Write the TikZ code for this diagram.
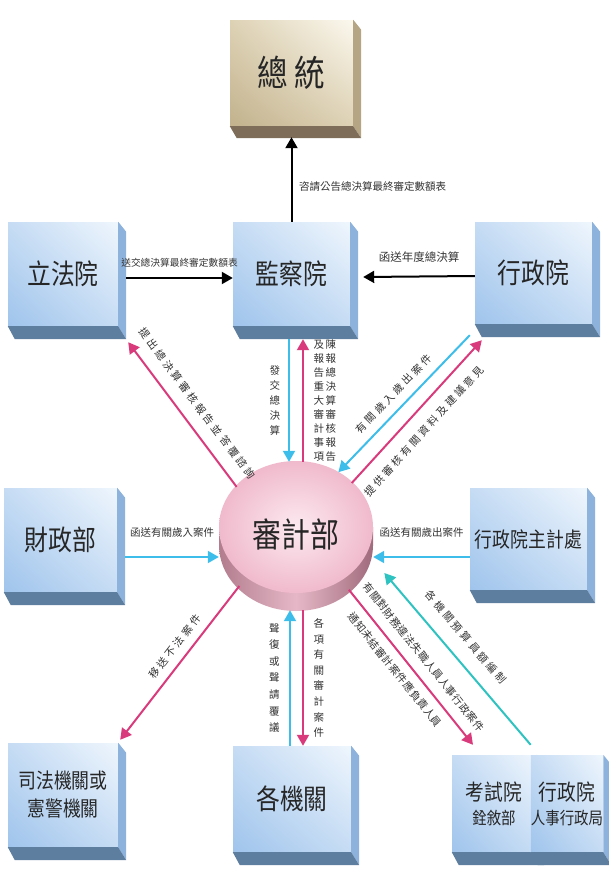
\documentclass[tikz,border=0pt]{standalone}
\usepackage{fontspec}
\setmainfont{Noto Sans CJK TC}
\newfontfamily\boxfont[FakeStretch=0.85]{Noto Sans CJK TC}
\usepackage{tikz}
\usetikzlibrary{positioning,arrows.meta,shapes.geometric,shadings}
\usepackage{xcolor}

\definecolor{boxdark}{HTML}{9FC4EC}
\definecolor{boxmid}{HTML}{C6DCF4}
\definecolor{boxlight}{HTML}{EFF6FD}
\definecolor{boxside}{HTML}{8DB2DC}
\definecolor{boxbase}{HTML}{5E7E9F}
\definecolor{ztdark}{HTML}{C2B28D}
\definecolor{ztmid}{HTML}{DED2B5}
\definecolor{ztlight}{HTML}{FBF8EE}
\definecolor{ztside}{HTML}{B5A585}
\definecolor{ztbase}{HTML}{7D6D59}
\definecolor{cyltopA}{HTML}{FCE9F0}
\definecolor{cyltopB}{HTML}{F0BACC}
\definecolor{cylsideA}{HTML}{B27D8E}
\definecolor{cylsideB}{HTML}{E6B8C7}
\definecolor{cylsideC}{HTML}{A06B7C}
\definecolor{pinkline}{HTML}{D93A7B}
\definecolor{cyanline}{HTML}{3DBDEA}
\definecolor{tealline}{HTML}{2EC2C0}

\tikzset{
  bluebox/.style={rectangle, inner sep=0pt, shade, upper left=boxmid, upper right=boxlight,
    lower left=boxdark, lower right=boxmid, text=black!85, align=center},
  tanbox/.style={rectangle, inner sep=0pt, shade, upper left=ztmid, upper right=ztlight,
    lower left=ztdark, lower right=ztmid, text=black!85, align=center},
  lbl/.style={inner sep=2pt, text=black!80, font=\fontsize{10.5}{12}\selectfont},
  slbl/.style={inner sep=2pt, text=black!80, sloped,
    font=\fontsize{10.5}{12}\selectfont\addfontfeature{LetterSpace=28}},
  vlbl/.style={inner sep=2pt, text=black!80, align=center},
  arr/.style={line width=2pt, -{Triangle[length=11pt,width=12pt]}},
  blackarr/.style={arr, draw=black},
  cyanarr/.style={arr, draw=cyanline},
  pinkarr/.style={arr, draw=pinkline},
  tealarr/.style={arr, draw=tealline}
}

\begin{document}
\begin{tikzpicture}[x=1pt, y=-1pt]
  \useasboundingbox (0,0) rectangle (609,878);

  % 審計部
  \shade[left color=cylsideA, right color=cylsideC, middle color=cylsideB] (219,527) rectangle (373,545);
  \shade[left color=cylsideA, right color=cylsideC, middle color=cylsideB] (296,545) ellipse [x radius=77pt, y radius=66pt];
  \shade[inner color=cyltopA, outer color=cyltopB] (296,527) ellipse [x radius=77pt, y radius=66pt];
  \node[ellipse, minimum width=154pt, minimum height=150pt, inner sep=0pt, text=black!85,
    font=\boxfont\fontsize{34}{36}\selectfont] (sjb) at (296,535) {\raisebox{4pt}{審計部}};

  % boxes
  \node[tanbox, minimum width=123pt, minimum height=106pt, font=\boxfont\fontsize{36}{40}\selectfont] (zt) at (291.5,73) {總 統};
  \node[bluebox, minimum width=110pt, minimum height=104pt, font=\boxfont\fontsize{28}{30}\selectfont] (lfy) at (63,274) {立法院};
  \node[bluebox, minimum width=117pt, minimum height=104pt, font=\boxfont\fontsize{28}{30}\selectfont] (jcy) at (291.5,274) {監察院};
  \node[bluebox, minimum width=117pt, minimum height=102pt, font=\boxfont\fontsize{28}{30}\selectfont] (xzy) at (533.5,273) {行政院};
  \node[bluebox, minimum width=113pt, minimum height=104pt, font=\boxfont\fontsize{28}{30}\selectfont] (czb) at (60.5,540) {財政部};
  \node[bluebox, minimum width=117pt, minimum height=102pt, font=\boxfont\fontsize{21}{24}\selectfont] (zjc) at (528.5,539) {行政院主計處};
  \node[bluebox, minimum width=110pt, minimum height=104pt, font=\boxfont\fontsize{21}{28}\selectfont] (sf) at (63,795) {司法機關或\\憲警機關};
  \node[bluebox, minimum width=118pt, minimum height=106pt, font=\boxfont\fontsize{28}{30}\selectfont] (gjg) at (292,799) {各機關};
  \node[bluebox, minimum width=84pt, minimum height=97pt, font=\boxfont\fontsize{22}{24}\selectfont] (ksy) at (494,803.5) {考試院\\{\fontsize{17}{20}\selectfont 銓敘部}};

  \fill[ztside] (zt.north east) -- ([shift={(8,10)}]zt.north east) -- ([shift={(8,12)}]zt.south east) -- (zt.south east) -- cycle;
  \fill[ztbase] (zt.south west) -- (zt.south east) -- ([shift={(8,12)}]zt.south east) -- ([shift={(7,12)}]zt.south west) -- cycle;
  \foreach \b in {lfy,jcy,xzy,czb,zjc,sf,gjg,ksy}{
    \fill[boxside] (\b.north east) -- ([shift={(8,10)}]\b.north east) -- ([shift={(8,13)}]\b.south east) -- (\b.south east) -- cycle;
    \fill[boxbase] (\b.south west) -- (\b.south east) -- ([shift={(8,13)}]\b.south east) -- ([shift={(7,13)}]\b.south west) -- cycle;
  }

  \node[bluebox, minimum width=68pt, minimum height=97pt, font=\boxfont\fontsize{22}{24}\selectfont] (rsj) at (567,803.5) {行政院\\{\fontsize{17}{20}\selectfont 人事行政局}};
  \fill[boxside] (rsj.north east) -- ([shift={(8,10)}]rsj.north east) -- ([shift={(8,13)}]rsj.south east) -- (rsj.south east) -- cycle;
  \fill[boxbase] (rsj.south west) -- (rsj.south east) -- ([shift={(8,13)}]rsj.south east) -- ([shift={(7,13)}]rsj.south west) -- cycle;

  % connectors
  \draw[blackarr] (jcy.north) -- ([shift={(0,11)}]zt.south)
    node[pos=0.42, right=4.5pt, lbl] {咨請公告總決算最終審定數額表};
  \draw[blackarr] ([shift={(8,4)}]lfy.east) -- ([shift={(0,4)}]jcy.west)
    node[midway, above=8pt, lbl, font=\fontsize{9.7}{11}\selectfont] {送交總決算最終審定數額表};
  \draw[blackarr] ([shift={(0,3)}]xzy.west) -- ([shift={(13,3)}]jcy.east)
    node[midway, above=11pt, lbl, font=\fontsize{11.5}{13}\selectfont] {函送年度總決算};

  \draw[cyanarr] ([shift={(-2.5,13)}]jcy.south) -- ([shift={(-7,2)}]sjb.north)
    node[midway, left=6pt, vlbl, font=\fontsize{10.5}{15}\selectfont] {發\\交\\總\\決\\算};
  \draw[pinkarr] ([shift={(7,2)}]sjb.north) -- ([shift={(11.5,13)}]jcy.south)
    node[midway, right=7.5pt, vlbl, font=\fontsize{10.5}{13.9}\selectfont]
    {及\,陳\\報\,報\\告\,總\\重\,決\\大\,算\\審\,審\\計\,核\\事\,報\\項\,告};

  \draw[pinkarr] (sjb.141) -- ([shift={(10,16)}]lfy.south east)
    node[midway, above=10.5pt, slbl] {提出總決算審核報告並答覆諮詢};
  \draw[cyanarr] ([shift={(-5,11)}]xzy.south west) -- (sjb.56)
    node[midway, above=6.5pt, slbl] {有關歲入歲出案件};
  \draw[pinkarr] (sjb.43) -- ([shift={(7,16)}]xzy.south west)
    node[pos=0.45, below=10.5pt, slbl] {提供審核有關資料及建議意見};

  \coordinate (czbout) at ([shift={(8,17)}]czb.east);
  \coordinate (zjcout) at ([shift={(0,18)}]zjc.west);
  \draw[cyanarr] (czbout) -- (czbout -| sjb.west)
    node[midway, above=16.5pt, lbl] {函送有關歲入案件};
  \draw[cyanarr] (zjcout) -- (zjcout -| sjb.east)
    node[midway, above=16.5pt, lbl] {函送有關歲出案件};

  \draw[pinkarr] (sjb.222) -- ([shift={(2,-3)}]sf.north east)
    node[pos=0.45, above=6pt, slbl] {移送不法案件};
  \draw[cyanarr] ([shift={(-2,0)}]gjg.north) -- ([shift={(-6,0)}]sjb.south)
    node[midway, left=7.5pt, vlbl, font=\fontsize{10.5}{16.6}\selectfont] {聲\\復\\或\\聲\\請\\覆\\議};
  \draw[pinkarr] ([shift={(7,0)}]sjb.south) -- ([shift={(11,0)}]gjg.north)
    node[midway, right=7.5pt, vlbl, font=\fontsize{10.5}{15.6}\selectfont] {各\\項\\有\\關\\審\\計\\案\\件};

  \draw[pinkarr] (sjb.-46) -- ([shift={(-21,-10)}]ksy.north)
    node[midway, above=8.5pt, slbl, font=\fontsize{10.5}{12}\selectfont\addfontfeature{LetterSpace=5}] {有關對財務違法失職人員人事行政案件}
    node[pos=0.46, below=6pt, slbl, font=\fontsize{10.5}{12}\selectfont\addfontfeature{LetterSpace=5}] {通知未結審計案件應負責人員};
  \draw[tealarr, shorten >=22pt] ([shift={(0,-10)}]rsj.north west) -- (sjb.-16)
    node[midway, above=12.5pt, slbl] {各機關預算員額編制};
\end{tikzpicture}
\end{document}
